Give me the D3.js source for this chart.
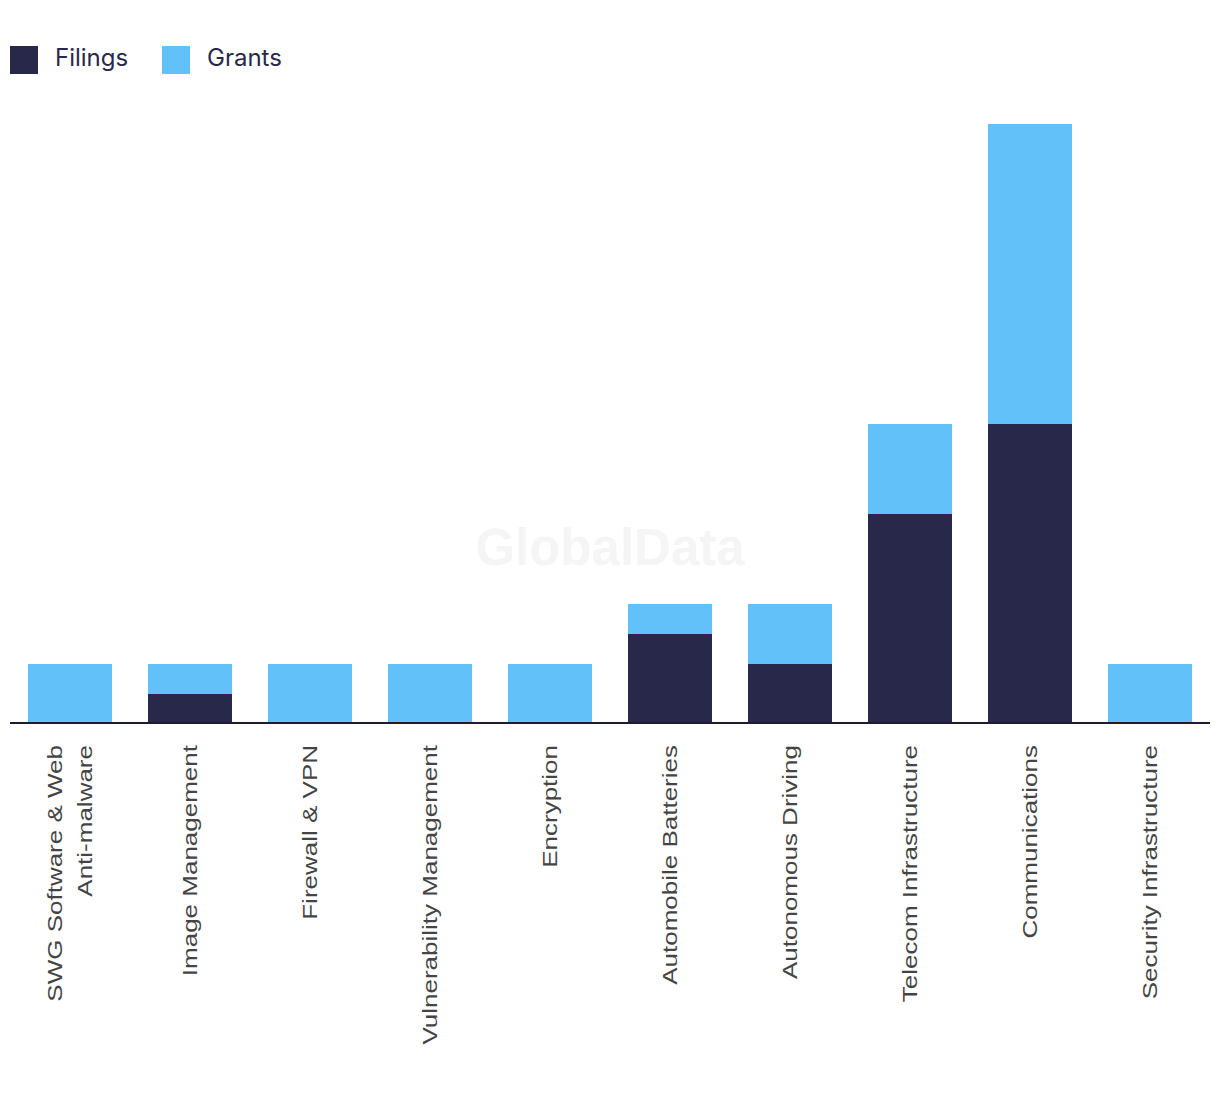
<!DOCTYPE html>
<html>
<head>
<meta charset="utf-8">
<script src="https://cdn.jsdelivr.net/npm/d3@7"></script>
<style>
  html, body { margin: 0; padding: 0; background: #ffffff; }
  svg { display: block; }
</style>
</head>
<body>
<svg id="chart" width="1220" height="1094"></svg>
<script>
const categories = [
  ["SWG Software & Web", "Anti-malware"],
  ["Image Management"],
  ["Firewall & VPN"],
  ["Vulnerability Management"],
  ["Encryption"],
  ["Automobile Batteries"],
  ["Autonomous Driving"],
  ["Telecom Infrastructure"],
  ["Communications"],
  ["Security Infrastructure"]
];
const filings = [0, 1, 0, 0, 0, 3, 2, 7, 10, 0];
const grants  = [2, 1, 2, 2, 2, 1, 2, 3, 10, 2];
const seriesNames = ["Filings", "Grants"];
const seriesColors = ["#28284b", "#62c1f9"];

const svg = d3.select("#chart");

const keys = categories.map(c => c.join(" "));
const table = keys.map((k, i) => ({ key: k, Filings: filings[i], Grants: grants[i] }));
const stack = d3.stack().keys(seriesNames)(table);

const x = d3.scaleBand().domain(keys).range([10, 1210]).paddingInner(0.3).paddingOuter(0.15);
const y = d3.scaleLinear().domain([0, 20]).range([724, 124]);

// watermark
svg.append("text")
  .attr("x", 610).attr("y", 565)
  .attr("text-anchor", "middle")
  .attr("font-family", "Liberation Sans, Arial, sans-serif")
  .attr("font-weight", "bold")
  .attr("font-size", 51)
  .attr("fill", "#f5f5f5")
  .text("GlobalData");

// bars
const color = d3.scaleOrdinal().domain(seriesNames).range(seriesColors);
svg.append("g").selectAll("g").data(stack).join("g")
  .attr("fill", d => color(d.key))
  .selectAll("rect").data(d => d).join("rect")
  .attr("x", d => x(d.data.key))
  .attr("width", x.bandwidth())
  .attr("y", d => y(d[1]))
  .attr("height", d => y(d[0]) - y(d[1]));

// axis
const xAxis = d3.axisBottom(x).tickSize(0).tickFormat("");
const ax = svg.append("g").attr("transform", "translate(0,723)").call(xAxis);
ax.select(".domain").attr("stroke", "#1b1b33").attr("stroke-width", 2).attr("d", "M10,0H1210");

// labels
const labels = svg.append("g");
categories.forEach((lines, i) => {
  const cx = x(keys[i]) + x.bandwidth() / 2;
  const n = lines.length;
  lines.forEach((line, j) => {
    const offset = (j - (n - 1) / 2) * 30;
    labels.append("text")
      .attr("transform", `translate(${cx + offset + 7},745) rotate(-90) scale(1.3,1)`)
      .attr("text-anchor", "end")
      .attr("font-family", "Liberation Sans, Arial, sans-serif")
      .attr("font-size", 20)
      .attr("fill", "#444444")
      .text(line);
  });
});

// legend
const legend = svg.append("g");
const legX = [10, 162];
seriesNames.forEach((name, i) => {
  legend.append("rect")
    .attr("x", legX[i]).attr("y", 46)
    .attr("width", 28).attr("height", 28)
    .attr("fill", seriesColors[i]);
  legend.append("text")
    .attr("x", legX[i] + 45).attr("y", 66)
    .attr("font-family", "Inter, Roboto, sans-serif")
    .attr("font-size", 24)
    .attr("fill", "#28284b")
    .text(name);
});
</script>
</body>
</html>
